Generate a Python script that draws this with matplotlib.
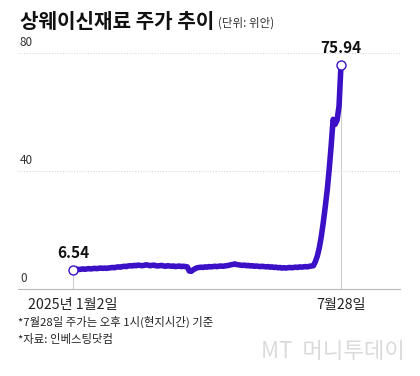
import matplotlib
matplotlib.use('Agg')
import matplotlib.pyplot as plt
import numpy as np

plt.rcParams['font.family'] = ['Noto Sans CJK KR', 'DejaVu Sans']

# closing price per trading day, 2025-01-02 .. 2025-07-28 (yuan)
jan = [6.54, 6.6, 6.7, 6.6, 6.7, 6.8, 6.7, 6.8, 6.9, 6.8, 6.9, 7.0, 6.9, 7.0, 7.1, 7.0, 7.1, 7.0]
feb = [7.1, 7.2, 7.3, 7.2, 7.4, 7.5, 7.4, 7.6, 7.7, 7.6, 7.8, 7.9, 7.8, 8.0, 7.9, 8.1, 8.0, 7.9]
mar = [8.0, 8.2, 8.1, 7.9, 8.0, 8.1, 7.9, 7.8, 7.9, 8.0, 7.8, 7.7, 7.9, 7.8, 7.7, 7.8, 7.6, 7.7,
       7.8, 7.6, 7.7]
apr = [7.6, 7.5, 6.1, 6.0, 6.5, 6.9, 7.2, 7.3, 7.4, 7.3, 7.5, 7.4, 7.6, 7.5, 7.6, 7.7, 7.6, 7.7,
       7.8, 7.7, 7.8]
may = [7.9, 8.0, 8.2, 8.3, 8.5, 8.3, 8.2, 8.1, 8.0, 8.1, 7.9, 8.0, 7.8, 7.9, 7.7, 7.8, 7.7, 7.6,
       7.7]
jun = [7.6, 7.5, 7.6, 7.4, 7.5, 7.3, 7.4, 7.2, 7.3, 7.1, 7.2, 7.1, 7.2, 7.3, 7.2, 7.3, 7.4, 7.3,
       7.5, 7.4]
jul = [7.5, 7.6, 7.5, 7.7, 7.8, 7.9, 9.3, 11.2, 14.0, 17.8, 22.5, 27.8, 33.5, 40.5, 48.5, 57.5,
       55.8, 57.2, 62.0, 75.94]
prices = jan + feb + mar + apr + may + jun + jul

x_labels = ['2025년 1월2일', '7월28일']
y_ticks = [0, 40, 80]
title = '상웨이신재료 주가 추이'
unit = '(단위: 위안)'
notes = ['*7월28일 주가는 오후 1시(현지시간) 기준', '*자료: 인베스팅닷컴']

line_color = '#3b10c6'
x = np.arange(len(prices))
last = len(prices) - 1

fig = plt.figure(figsize=(4.2, 3.76), dpi=100)
ax = fig.add_axes([18 / 420, 1 - 289 / 376, 382 / 420, (289 - 53) / 376])

px = 268 / last
ax.set_xlim(-55 / px, last + 59 / px)
ax.set_ylim(0, 80)

for s in ['top', 'right', 'left']:
    ax.spines[s].set_visible(False)
ax.spines['bottom'].set_color('#b8b8b8')
ax.spines['bottom'].set_linewidth(0.8)
ax.set_xticks([])
ax.set_yticks([])

for v in y_ticks[1:]:
    ax.axhline(v, color='#d8d8d8', lw=0.8, ls=(0, (1, 1.5)), zorder=1)
for v in y_ticks:
    ax.text(0.005, v + 1.2, str(v), transform=ax.get_yaxis_transform(),
            fontsize=8.5, color='#333333', ha='left', va='bottom')

ax.vlines([0, last], 0, [prices[0], prices[last]], color='#d0d0d0', lw=0.8, zorder=1)

ax.plot(x, prices, color=line_color, lw=4, solid_capstyle='round',
        solid_joinstyle='round', zorder=3)
ax.plot([0, last], [prices[0], prices[last]], 'o', ms=6.5, mfc='white',
        mec=line_color, mew=1.0, zorder=4)

ax.text(0, prices[0] + 3.0, '6.54', ha='center', va='bottom', fontsize=11,
        fontweight='bold', color='#111111')
ax.text(last, prices[last] + 3.0, '75.94', ha='center', va='bottom', fontsize=11,
        fontweight='bold', color='#111111')

for xi, lab in zip([0, last], x_labels):
    ax.text(xi, -3.2, lab, ha='center', va='top', fontsize=10.2, color='#222222')

fig.text(20 / 420, 1 - 22 / 376, title, fontsize=14.5, fontweight='heavy',
         ha='left', va='center', color='#111111')
fig.text(218 / 420, 1 - 23 / 376, unit, fontsize=8.3, ha='left', va='center',
         color='#333333')
fig.text(18 / 420, 1 - 322 / 376, notes[0], fontsize=8.2, ha='left', va='center',
         color='#222222')
fig.text(18 / 420, 1 - 339 / 376, notes[1], fontsize=8.2, ha='left', va='center',
         color='#222222')
fig.text(405 / 420, 1 - 352 / 376, 'MT  머니투데이', fontsize=16, ha='right',
         va='center', color='#dadada', fontweight='light')

fig.savefig('out.png', dpi=100)
